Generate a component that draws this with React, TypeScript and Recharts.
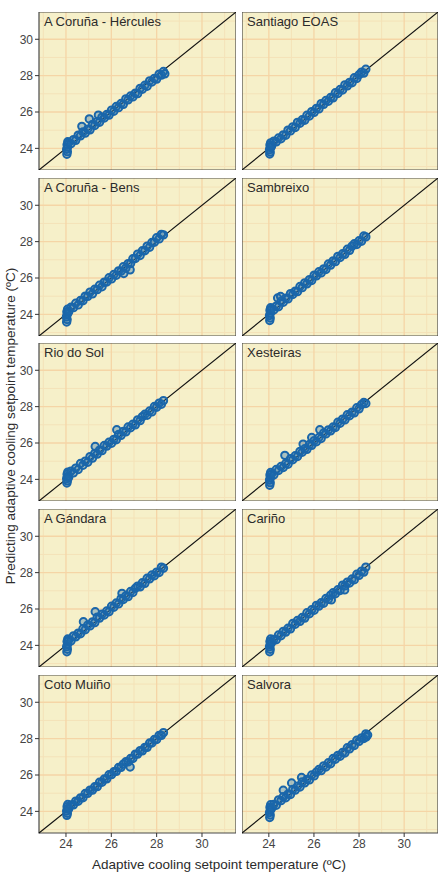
import React from 'react';
import {
  ScatterChart,
  Scatter,
  XAxis,
  YAxis,
  CartesianGrid,
  ReferenceLine,
  ReferenceArea,
} from 'recharts';

type Pt = [number, number];

// Shared axis range and ticks (°C)
const AXIS_MIN = 22.81;
const AXIS_MAX = 31.5;
const majorTicks = [24, 26, 28, 30];
const minorTicks = [23, 25, 27, 29, 31];

const xTitle = 'Adaptive cooling setpoint temperature (ºC)';
const yTitle = 'Predicting adaptive cooling setpoint temperature (ºC)';

// Each station: [adaptive setpoint, predicted setpoint]
const herculesPts: Pt[] = [
  [24.04, 23.68], [24.06, 23.82], [24.03, 23.95], [24.07, 24.08], [24.05, 24.2], [24.08, 24.36],
  [24.12, 24.31], [24.22, 24.26], [24.33, 24.48], [24.43, 24.44], [24.54, 24.73], [24.64, 24.69],
  [24.75, 24.9], [24.85, 24.84], [24.96, 25.06], [25.06, 25.02], [25.17, 25.32], [25.27, 25.26],
  [25.38, 25.48], [25.48, 25.44], [25.59, 25.72], [25.69, 25.67], [25.8, 25.86], [25.9, 25.83],
  [26.01, 26.1], [26.11, 26.04], [26.22, 26.3], [26.32, 26.24], [26.43, 26.47], [26.53, 26.42],
  [26.64, 26.72], [26.74, 26.67], [26.85, 26.88], [26.95, 26.83], [27.06, 27.04], [27.16, 27.01],
  [27.27, 27.3], [27.37, 27.25], [27.48, 27.47], [27.58, 27.42], [27.69, 27.71], [27.79, 27.65],
  [27.9, 27.85], [28.0, 27.81], [28.11, 28.08], [28.21, 28.03], [28.3, 28.23], [28.36, 28.1],
  [24.7, 25.21], [25.03, 25.62], [25.43, 25.83],
];

const santiagoPts: Pt[] = [
  [24.04, 23.69], [24.06, 23.8], [24.03, 23.93], [24.07, 24.05], [24.05, 24.18], [24.08, 24.3],
  [24.12, 24.11], [24.22, 24.4], [24.33, 24.36], [24.43, 24.57], [24.54, 24.53], [24.64, 24.74],
  [24.75, 24.72], [24.85, 25.0], [24.96, 24.96], [25.06, 25.18], [25.17, 25.15], [25.27, 25.43],
  [25.38, 25.38], [25.48, 25.57], [25.59, 25.55], [25.69, 25.82], [25.8, 25.78], [25.9, 26.02],
  [26.01, 25.98], [26.11, 26.2], [26.22, 26.17], [26.32, 26.46], [26.43, 26.42], [26.53, 26.63],
  [26.64, 26.59], [26.74, 26.8], [26.85, 26.78], [26.95, 27.06], [27.06, 27.02], [27.16, 27.24],
  [27.27, 27.21], [27.37, 27.49], [27.48, 27.44], [27.58, 27.63], [27.69, 27.61], [27.79, 27.88],
  [27.9, 27.84], [28.0, 28.05], [28.11, 28.19], [28.21, 28.14], [28.3, 28.35],
];

const bensPts: Pt[] = [
  [24.03, 23.58], [24.05, 23.72], [24.02, 23.86], [24.06, 24.0], [24.04, 24.14], [24.07, 24.28],
  [24.12, 24.14], [24.22, 24.39], [24.33, 24.37], [24.43, 24.61], [24.54, 24.52], [24.64, 24.76],
  [24.75, 24.75], [24.85, 25.0], [24.96, 24.99], [25.06, 25.22], [25.17, 25.13], [25.27, 25.38],
  [25.38, 25.36], [25.48, 25.6], [25.59, 25.52], [25.69, 25.77], [25.8, 25.78], [25.9, 26.01],
  [26.01, 25.95], [26.11, 26.19], [26.22, 26.15], [26.32, 26.39], [26.43, 26.38], [26.53, 26.62],
  [26.64, 26.54], [26.74, 26.79], [26.85, 26.8], [26.95, 27.06], [27.06, 27.07], [27.16, 27.31],
  [27.27, 27.24], [27.37, 27.5], [27.48, 27.5], [27.58, 27.75], [27.69, 27.69], [27.79, 27.95],
  [27.9, 27.97], [28.0, 28.21], [28.11, 28.15], [28.21, 28.4], [28.3, 28.37],
  [26.55, 26.25], [26.83, 26.45],
];

const sambreixoPts: Pt[] = [
  [24.04, 23.66], [24.06, 23.8], [24.03, 23.94], [24.07, 24.08], [24.05, 24.22], [24.08, 24.36],
  [24.12, 24.29], [24.22, 24.24], [24.33, 24.45], [24.43, 24.42], [24.54, 24.72], [24.64, 24.67],
  [24.75, 24.89], [24.85, 24.85], [24.96, 25.14], [25.06, 25.09], [25.17, 25.28], [25.27, 25.25],
  [25.38, 25.53], [25.48, 25.47], [25.59, 25.73], [25.69, 25.68], [25.8, 25.91], [25.9, 25.86],
  [26.01, 26.16], [26.11, 26.12], [26.22, 26.34], [26.32, 26.28], [26.43, 26.5], [26.53, 26.47],
  [26.64, 26.77], [26.74, 26.71], [26.85, 26.94], [26.95, 26.9], [27.06, 27.19], [27.16, 27.13],
  [27.27, 27.33], [27.37, 27.3], [27.48, 27.58], [27.58, 27.52], [27.69, 27.75], [27.79, 27.88],
  [27.9, 27.84], [28.0, 28.05], [28.11, 28.02], [28.21, 28.31], [28.3, 28.26],
  [24.39, 24.9], [24.52, 24.98],
];

const rioDoSolPts: Pt[] = [
  [24.04, 23.8], [24.06, 23.92], [24.03, 24.04], [24.07, 24.16], [24.05, 24.28], [24.08, 24.4],
  [24.12, 24.11], [24.22, 24.45], [24.33, 24.36], [24.43, 24.62], [24.54, 24.54], [24.64, 24.87],
  [24.75, 24.78], [24.85, 25.0], [24.96, 24.94], [25.06, 25.25], [25.17, 25.17], [25.27, 25.43],
  [25.38, 25.39], [25.48, 25.61], [25.59, 25.58], [25.69, 25.86], [25.8, 25.83], [25.9, 26.04],
  [26.01, 25.99], [26.11, 26.2], [26.22, 26.18], [26.32, 26.47], [26.43, 26.42], [26.53, 26.64],
  [26.64, 26.61], [26.74, 26.88], [26.85, 26.84], [26.95, 27.03], [27.06, 27.0], [27.16, 27.27],
  [27.27, 27.23], [27.37, 27.45], [27.48, 27.58], [27.58, 27.53], [27.69, 27.76], [27.79, 27.71],
  [27.9, 28.01], [28.0, 27.97], [28.11, 28.19], [28.21, 28.13], [28.3, 28.33],
  [25.29, 25.81], [26.24, 26.73],
];

const xesteirasPts: Pt[] = [
  [24.04, 23.68], [24.06, 23.82], [24.03, 23.96], [24.07, 24.1], [24.05, 24.24], [24.08, 24.38],
  [24.12, 24.29], [24.22, 24.24], [24.33, 24.54], [24.43, 24.49], [24.54, 24.71], [24.64, 24.65],
  [24.75, 24.87], [24.85, 24.83], [24.96, 25.13], [25.06, 25.08], [25.17, 25.3], [25.27, 25.26],
  [25.38, 25.54], [25.48, 25.49], [25.59, 25.68], [25.69, 25.65], [25.8, 25.92], [25.9, 25.87],
  [26.01, 26.13], [26.11, 26.07], [26.22, 26.3], [26.32, 26.25], [26.43, 26.55], [26.53, 26.5],
  [26.64, 26.72], [26.74, 26.67], [26.85, 26.88], [26.95, 26.85], [27.06, 27.14], [27.16, 27.09],
  [27.27, 27.31], [27.37, 27.27], [27.48, 27.55], [27.58, 27.5], [27.69, 27.7], [27.79, 27.66],
  [27.9, 27.94], [28.0, 27.88], [28.11, 28.11], [28.21, 28.23], [28.3, 28.17],
  [24.71, 25.32], [25.52, 25.94], [25.9, 26.3], [26.26, 26.73],
];

const gandaraPts: Pt[] = [
  [24.04, 23.65], [24.06, 23.79], [24.03, 23.93], [24.07, 24.07], [24.05, 24.21], [24.08, 24.35],
  [24.12, 24.28], [24.22, 24.24], [24.33, 24.52], [24.43, 24.47], [24.54, 24.67], [24.64, 24.64],
  [24.75, 24.91], [24.85, 24.86], [24.96, 25.12], [25.06, 25.07], [25.17, 25.29], [25.27, 25.25],
  [25.38, 25.55], [25.48, 25.5], [25.59, 25.72], [25.69, 25.67], [25.8, 25.89], [25.9, 25.85],
  [26.01, 26.15], [26.11, 26.1], [26.22, 26.33], [26.32, 26.28], [26.43, 26.57], [26.53, 26.52],
  [26.64, 26.72], [26.74, 26.68], [26.85, 26.96], [26.95, 26.91], [27.06, 27.14], [27.16, 27.26],
  [27.27, 27.22], [27.37, 27.44], [27.48, 27.41], [27.58, 27.69], [27.69, 27.66], [27.79, 27.87],
  [27.9, 27.83], [28.0, 28.03], [28.11, 28.01], [28.21, 28.3], [28.3, 28.24],
  [24.77, 25.3], [25.29, 25.85], [26.47, 26.86],
];

const carinoPts: Pt[] = [
  [24.04, 23.65], [24.06, 23.79], [24.03, 23.93], [24.07, 24.07], [24.05, 24.21], [24.08, 24.35],
  [24.12, 24.15], [24.22, 24.33], [24.33, 24.31], [24.43, 24.57], [24.54, 24.53], [24.64, 24.77],
  [24.75, 24.73], [24.85, 24.94], [24.96, 24.91], [25.06, 25.2], [25.17, 25.16], [25.27, 25.37],
  [25.38, 25.32], [25.48, 25.53], [25.59, 25.5], [25.69, 25.79], [25.8, 25.74], [25.9, 25.96],
  [26.01, 25.93], [26.11, 26.2], [26.22, 26.16], [26.32, 26.34], [26.43, 26.32], [26.53, 26.58],
  [26.64, 26.54], [26.74, 26.76], [26.85, 26.89], [26.95, 26.84], [27.06, 27.06], [27.16, 27.02],
  [27.27, 27.31], [27.37, 27.27], [27.48, 27.48], [27.58, 27.43], [27.69, 27.65], [27.79, 27.61],
  [27.9, 27.91], [28.0, 27.85], [28.11, 28.08], [28.21, 28.03], [28.3, 28.3],
  [26.77, 26.5], [27.36, 27.05],
];

const cotoMuinoPts: Pt[] = [
  [24.04, 23.78], [24.06, 23.9], [24.03, 24.02], [24.07, 24.14], [24.05, 24.26], [24.08, 24.38],
  [24.12, 24.14], [24.22, 24.35], [24.33, 24.36], [24.43, 24.56], [24.54, 24.56], [24.64, 24.74],
  [24.75, 24.75], [24.85, 24.98], [24.96, 24.99], [25.06, 25.17], [25.17, 25.17], [25.27, 25.35],
  [25.38, 25.36], [25.48, 25.6], [25.59, 25.6], [25.69, 25.78], [25.8, 25.79], [25.9, 26.01],
  [26.01, 26.02], [26.11, 26.18], [26.22, 26.2], [26.32, 26.41], [26.43, 26.42], [26.53, 26.6],
  [26.64, 26.73], [26.74, 26.72], [26.85, 26.91], [26.95, 26.91], [27.06, 27.15], [27.16, 27.15],
  [27.27, 27.34], [27.37, 27.33], [27.48, 27.52], [27.58, 27.52], [27.69, 27.76], [27.79, 27.76],
  [27.9, 27.95], [28.0, 27.95], [28.11, 28.18], [28.21, 28.18], [28.3, 28.33],
  [26.83, 26.44],
];

const salvoraPts: Pt[] = [
  [24.04, 23.66], [24.06, 23.8], [24.03, 23.94], [24.07, 24.08], [24.05, 24.22], [24.08, 24.36],
  [24.12, 24.16], [24.22, 24.38], [24.33, 24.34], [24.43, 24.63], [24.54, 24.59], [24.64, 24.8],
  [24.75, 24.75], [24.85, 24.95], [24.96, 24.93], [25.06, 25.21], [25.17, 25.17], [25.27, 25.38],
  [25.38, 25.34], [25.48, 25.62], [25.59, 25.57], [25.69, 25.76], [25.8, 25.73], [25.9, 26.0],
  [26.01, 25.95], [26.11, 26.16], [26.22, 26.3], [26.32, 26.24], [26.43, 26.5], [26.53, 26.44],
  [26.64, 26.67], [26.74, 26.62], [26.85, 26.91], [26.95, 26.87], [27.06, 27.08], [27.16, 27.03],
  [27.27, 27.24], [27.37, 27.21], [27.48, 27.5], [27.58, 27.44], [27.69, 27.67], [27.79, 27.62],
  [27.9, 27.91], [28.0, 27.85], [28.11, 28.04], [28.21, 28.01], [28.3, 28.26],
  [24.64, 25.16], [25.01, 25.56], [25.45, 25.86], [28.32, 28.1], [28.38, 28.2],
];

const stationNames = [
  'A Coruña - Hércules', 'Santiago EOAS',
  'A Coruña - Bens', 'Sambreixo',
  'Rio do Sol', 'Xesteiras',
  'A Gándara', 'Cariño',
  'Coto Muiño', 'Salvora',
];
const stationPoints = [
  herculesPts, santiagoPts,
  bensPts, sambreixoPts,
  rioDoSolPts, xesteirasPts,
  gandaraPts, carinoPts,
  cotoMuinoPts, salvoraPts,
];

// Layout (px)
const PLOT_LEFT = [39, 242];
const PLOT_W = [197, 196];
const ROW_TOP = [12, 177.7, 343.3, 509, 674.7];
const PLOT_H = 158;
const Y_AXIS_W = 39;
const X_AXIS_H = 26;

const FONT = '"Liberation Sans", Arial, Helvetica, sans-serif';
const PANEL_BG = '#f6f0c9';
const MAJOR_GRID = '#f5d5a6';
const MINOR_GRID = '#f4e2b8';
const POINT_BLUE = '#1f6db0';
const POINT_EDGE = '#1a66aa';
const TEXT_DARK = '#2b2b2b';
const TICK_TEXT = '#444';

// Open circles with a heavy ring so overlapping points merge into a solid band
const pointShape = (p: any) => (
  <circle
    cx={p.cx}
    cy={p.cy}
    r={3.7}
    fill={POINT_BLUE}
    fillOpacity={0.35}
    stroke={POINT_EDGE}
    strokeWidth={2}
  />
);

function Panel({ name, pts, col, row }: { name: string; pts: Pt[]; col: number; row: number }) {
  const showY = col === 0;
  const showX = row === ROW_TOP.length - 1;
  const w = PLOT_W[col] + (showY ? Y_AXIS_W : 0);
  const h = PLOT_H + (showX ? X_AXIS_H : 0);
  const left = PLOT_LEFT[col] - (showY ? Y_AXIS_W : 0);
  const top = ROW_TOP[row];
  const data = pts.map(([x, y]) => ({ x, y }));

  return (
    <div style={{ position: 'absolute', left, top, width: w, height: h }}>
      <ScatterChart width={w} height={h} margin={{ top: 0, right: 0, bottom: 0, left: 0 }}>
        <CartesianGrid
          fill={PANEL_BG}
          stroke={MINOR_GRID}
          strokeWidth={1}
          horizontalValues={minorTicks}
          verticalValues={minorTicks}
        />
        <CartesianGrid
          stroke={MAJOR_GRID}
          strokeWidth={1.3}
          horizontalValues={majorTicks}
          verticalValues={majorTicks}
        />
        <XAxis
          type="number"
          dataKey="x"
          domain={[AXIS_MIN, AXIS_MAX]}
          allowDataOverflow
          ticks={majorTicks}
          interval={0}
          hide={!showX}
          height={X_AXIS_H}
          axisLine={false}
          tickSize={4}
          tickMargin={2}
          tickLine={{ stroke: '#333' }}
          tick={{ fill: TICK_TEXT, fontSize: 12, fontFamily: FONT }}
        />
        <YAxis
          type="number"
          dataKey="y"
          domain={[AXIS_MIN, AXIS_MAX]}
          allowDataOverflow
          ticks={majorTicks}
          interval={0}
          hide={!showY}
          width={Y_AXIS_W}
          axisLine={false}
          tickSize={4}
          tickMargin={2}
          tickLine={{ stroke: '#333' }}
          tick={{ fill: TICK_TEXT, fontSize: 12, fontFamily: FONT }}
        />
        <ReferenceArea
          x1={AXIS_MIN}
          x2={AXIS_MAX}
          y1={AXIS_MIN}
          y2={AXIS_MAX}
          fill="none"
          fillOpacity={0}
          stroke="#4a4a4a"
          strokeWidth={1.2}
          label={{
            value: name,
            position: 'insideTopLeft',
            offset: 5,
            fill: TEXT_DARK,
            fontSize: 13,
            fontFamily: FONT,
          }}
        />
        <Scatter data={data} shape={pointShape} isAnimationActive={false} />
        <ReferenceLine
          segment={[
            { x: AXIS_MIN, y: AXIS_MIN },
            { x: AXIS_MAX, y: AXIS_MAX },
          ]}
          stroke="#111"
          strokeWidth={1.1}
        />
      </ScatterChart>
    </div>
  );
}

export default function App() {
  return (
    <div
      style={{
        position: 'absolute',
        left: 0,
        top: 0,
        width: 444,
        height: 875,
        background: '#fff',
        fontFamily: FONT,
      }}
    >
      {stationNames.map((name, i) => (
        <Panel key={name} name={name} pts={stationPoints[i]} col={i % 2} row={Math.floor(i / 2)} />
      ))}
      <div
        style={{
          position: 'absolute',
          left: 0,
          width: 438,
          top: 857,
          textAlign: 'center',
          fontSize: 13.5,
          lineHeight: '15px',
          color: TEXT_DARK,
          whiteSpace: 'nowrap',
        }}
      >
        {xTitle}
      </div>
      <div
        style={{
          position: 'absolute',
          left: 10,
          top: 426,
          transform: 'translate(-50%, -50%) rotate(-90deg)',
          fontSize: 13.5,
          lineHeight: '15px',
          color: TEXT_DARK,
          whiteSpace: 'nowrap',
        }}
      >
        {yTitle}
      </div>
    </div>
  );
}
